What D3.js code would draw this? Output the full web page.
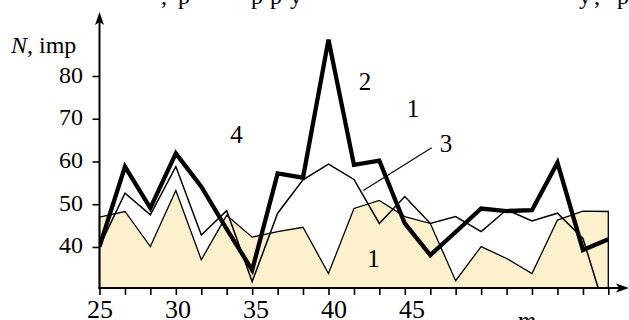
<!DOCTYPE html>
<html>
<head>
<meta charset="utf-8">
<script src="https://cdn.jsdelivr.net/npm/d3@7"></script>
<style>
  body { margin: 0; background: #fff; }
  svg { display: block; font-family: "Liberation Serif", "DejaVu Serif", serif; }
  .tick line { stroke: #000; stroke-width: 1.6; }
</style>
</head>
<body>
<div class="svg-container"></div>
<script>
// x positions of the measurement points (every 5/3 of a unit)
const xVals = [25, 26.67, 28.33, 30, 31.67, 33.33, 35, 36.67, 38.33, 40, 41.67,
               43.33, 45, 46.67, 48.33, 50, 51.67, 53.33, 55, 56.67, 58.33];
// curve 1 - shaded area
const curve1 = [47.0, 48.3, 40.1, 53.2, 37.0, 47.4, 42.3, 43.6, 44.6, 33.8, 49.0,
                50.9, 47.1, 45.5, 32.1, 40.1, 37.3, 33.8, 46.3, 48.4, 48.3];
// curve 2 - thick line
const curve2 = [40.1, 58.8, 49.1, 61.9, 54.1, 44.2, 34.6, 57.2, 56.2, 88.5, 59.2,
                60.2, 45.5, 38.1, 43.5, 49.0, 48.4, 48.6, 59.7, 39.3, 41.8];
// curve 3 - thin line
const curve3 = [40.1, 52.6, 47.5, 58.8, 42.8, 48.5, 31.9, 47.9, 55.7, 59.4, 55.8,
                45.5, 51.8, 45.5, 47.1, 43.6, 48.7, 46.1, 47.9, 42.0, 22.7];
const xTickLabels = [25, 30, 35, 40, 45];
const yTickLabels = [40, 50, 60, 70, 80];
// curve numbers written on the figure, in data units
const curveNotes = [
  { text: "4", x: 33.97, y: 64.3 },
  { text: "2", x: 42.39, y: 76.7 },
  { text: "1", x: 45.54, y: 70.5 },
  { text: "3", x: 47.70, y: 62.3 },
  { text: "1", x: 42.95, y: 35.4 }
];
const leader3 = [[46.76, 63.2], [42.28, 53.2]];

const width = 629, height = 320;
const yMin = 30.4;

const svg = d3.select(".svg-container")
  .append("svg")
  .attr("width", width)
  .attr("height", height);

svg.append("rect").attr("width", width).attr("height", height).attr("fill", "#fff");

const x = d3.scaleLinear().domain([25, 58.33]).range([99.5, 608.3]);
const y = d3.scaleLinear().domain([yMin, 80]).range([288, 76]);
// the printed numbers under the axis sit slightly right of their ticks
const xLabelPos = d3.scaleLinear().domain([25, 45]).range([100, 412]);

svg.append("clipPath").attr("id", "plot")
  .append("rect")
  .attr("x", x(25)).attr("y", 0)
  .attr("width", width - x(25)).attr("height", y(yMin));

const pts = arr => arr.map((v, i) => [xVals[i], v]);

// AREA 1
const area = d3.area()
  .x(d => x(d[0]))
  .y0(y(yMin))
  .y1(d => y(d[1]));

svg.append("path")
  .datum(pts(curve1))
  .attr("d", area)
  .attr("fill", "#fdf0cd")
  .attr("stroke", "#000")
  .attr("stroke-width", 1.3)
  .attr("stroke-linejoin", "miter");

const line = d3.line().x(d => x(d[0])).y(d => y(d[1]));

svg.append("path")
  .datum(pts(curve3))
  .attr("d", line)
  .attr("clip-path", "url(#plot)")
  .attr("fill", "none")
  .attr("stroke", "#000")
  .attr("stroke-width", 1.5);

svg.append("path")
  .datum(pts(curve2))
  .attr("d", line)
  .attr("clip-path", "url(#plot)")
  .attr("fill", "none")
  .attr("stroke", "#000")
  .attr("stroke-width", 4.3);

// leader line to curve 3
svg.append("path")
  .datum(leader3)
  .attr("d", line)
  .attr("fill", "none")
  .attr("stroke", "#000")
  .attr("stroke-width", 1.1);

// AXES
const xAxis = d3.axisBottom(x)
  .tickValues(xVals)
  .tickFormat("")
  .tickSizeInner(7)
  .tickSizeOuter(0);

svg.append("g")
  .attr("transform", "translate(0," + y(yMin) + ")")
  .call(xAxis)
  .call(g => g.select(".domain").remove());

const yAxis = d3.axisLeft(y)
  .tickValues(yTickLabels)
  .tickFormat("")
  .tickSizeInner(7)
  .tickSizeOuter(0);

svg.append("g")
  .attr("transform", "translate(" + x(25) + ",0)")
  .call(yAxis)
  .call(g => g.select(".domain").remove());

// axis lines with arrows
svg.append("line")
  .attr("x1", x(25)).attr("y1", y(yMin) + 1)
  .attr("x2", x(25)).attr("y2", 22)
  .attr("stroke", "#000").attr("stroke-width", 2);
svg.append("path")
  .attr("d", "M" + x(25) + ",12 l-4.5,13 l4.5,-3 l4.5,3 Z")
  .attr("fill", "#000");

svg.append("line")
  .attr("x1", x(25) - 1).attr("y1", y(yMin))
  .attr("x2", 620).attr("y2", y(yMin))
  .attr("stroke", "#000").attr("stroke-width", 2);
svg.append("path")
  .attr("d", "M629," + y(yMin) + " l-13,-4.5 l3,4.5 l-3,4.5 Z")
  .attr("fill", "#000");

// tick labels
svg.selectAll(".ylab")
  .data(yTickLabels)
  .enter()
  .append("text")
  .attr("class", "ylab")
  .attr("x", 83)
  .attr("y", d => y(d) + 6.5)
  .attr("text-anchor", "end")
  .attr("font-size", 24)
  .text(d => d);

svg.selectAll(".xlab")
  .data(xTickLabels)
  .enter()
  .append("text")
  .attr("class", "xlab")
  .attr("x", d => xLabelPos(d))
  .attr("y", 318)
  .attr("text-anchor", "middle")
  .attr("font-size", 26)
  .text(d => d);

// axis title
const title = svg.append("text")
  .attr("x", 11)
  .attr("y", 53)
  .attr("font-size", 24);
title.append("tspan").attr("font-style", "italic").text("N");
title.append("tspan").text(", imp");

// curve numbers
svg.selectAll(".note")
  .data(curveNotes)
  .enter()
  .append("text")
  .attr("class", "note")
  .attr("x", d => x(d.x))
  .attr("y", d => y(d.y))
  .attr("text-anchor", "middle")
  .attr("font-size", 25)
  .text(d => d.text);

// cut-off text of the neighbouring lines of the page
const topBits = [
  { ch: ",", x: 161 }, { ch: "р", x: 178 }, { ch: "р", x: 251 },
  { ch: "р", x: 270 }, { ch: "у", x: 290 }, { ch: "у", x: 579 },
  { ch: ",", x: 594 }, { ch: "р", x: 617 }
];
svg.selectAll(".topbit")
  .data(topBits)
  .enter()
  .append("text")
  .attr("class", "topbit")
  .attr("x", d => d.x)
  .attr("y", 4)
  .attr("font-size", 24)
  .text(d => d.ch);

svg.append("text")
  .attr("x", 517)
  .attr("y", 329)
  .attr("font-size", 26)
  .attr("font-style", "italic")
  .text("m");
</script>
</body>
</html>
